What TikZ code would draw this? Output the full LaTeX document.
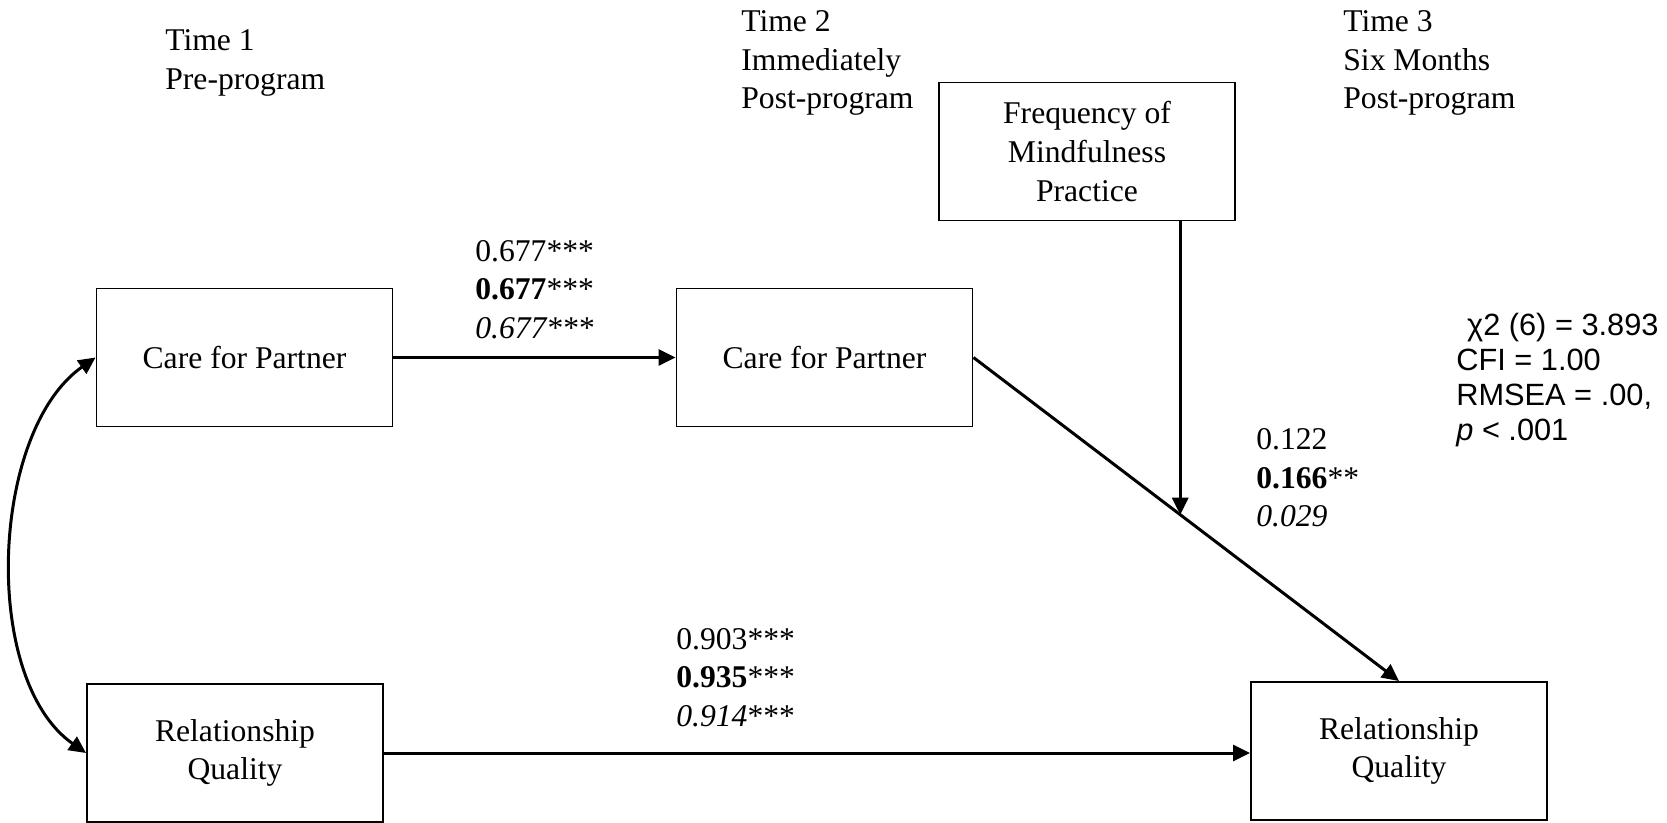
\documentclass[tikz,border=0pt]{standalone}
\usepackage{fontspec}
\setmainfont{Liberation Serif}
\setsansfont{Liberation Sans}
\usetikzlibrary{arrows.meta,positioning,calc}

\tikzset{
  varbox/.style={draw, line width=1.1pt, minimum width=5.92cm, minimum height=2.76cm,
    align=center, font=\fontsize{18}{22}\selectfont},
  txt/.style={anchor=west, align=left, inner sep=0pt, font=\fontsize{18}{22}\selectfont},
  link/.style={line width=1.7pt, -{Triangle[length=0.34cm,width=0.32cm]}},
}

\begin{document}
\begin{tikzpicture}
    \useasboundingbox (0,0) rectangle (33.34,16.44);
    \clip (0,0) rectangle (33.34,16.44);

    % Time points
    \node [txt] (t1) at (3.30,15.18) {Time 1\\Pre-program};
    \node [txt] (t2) at (14.82,15.18) {Time 2\\Immediately\\Post-program};
    \node [txt] (t3) at (26.86,15.18) {Time 3\\Six Months\\Post-program};

    % Variables
    \node [varbox] (care1) at (4.89,9.29) {Care for Partner};
    \node [varbox] (care2) at (16.49,9.29) {Care for Partner};
    \node [varbox] (freq) at (21.74,13.41) {Frequency of\\Mindfulness\\Practice};
    \node [varbox] (rq1) at (4.70,1.38) {Relationship\\Quality};
    \node [varbox] (rq3) at (27.98,1.42) {Relationship\\Quality};

    % Paths
    \draw [link] (care1.east) -- (care2.west);
    \draw [link] (rq1.east) -- (rq1.east -| rq3.west);
    \draw [link] (care2.east) -- coordinate[pos=0.486] (mod) (rq3.north);
    \draw [link] (mod |- freq.south) -- (mod);
    \draw [link, {Triangle[length=0.34cm,width=0.32cm]}-{Triangle[length=0.34cm,width=0.32cm]}]
        (care1.west) to[out=215, in=145, looseness=0.83] (rq1.west);

    % Coefficients
    \node [txt] (c1) at (9.50,10.65) {0.677***\\\textbf{0.677}***\\\textit{0.677}***};
    \node [txt] (c2) at (25.12,6.88) {0.122\\\textbf{0.166}**\\\textit{0.029}};
    \node [txt] (c3) at (13.52,2.89) {0.903***\\\textbf{0.935}***\\\textit{0.914}***};

    % Model fit
    \node [txt, font=\sffamily\fontsize{17.5}{20}\selectfont] (fit) at (29.12,8.84)
        {\hspace{0.35em}χ2 (6) = 3.893\\CFI = 1.00\\RMSEA = .00,\\\textit{p} < .001};
\end{tikzpicture}
\end{document}
